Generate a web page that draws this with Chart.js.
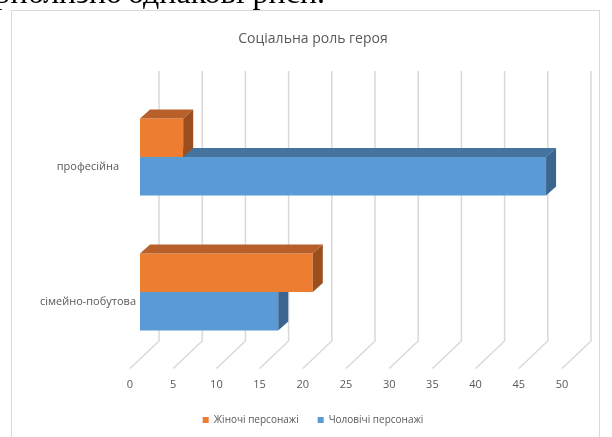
<!DOCTYPE html>
<html lang="uk">
<head>
<meta charset="utf-8">
<title>Соціальна роль героя</title>
<script src="https://cdn.jsdelivr.net/npm/chart.js@4.4.1/dist/chart.umd.min.js"></script>
<style>
  html, body { margin: 0; padding: 0; background: #fff; }
  body { width: 612px; height: 437px; position: relative; overflow: hidden; }
  #ramka {
    position: absolute; left: 11px; top: 10px; width: 589px; height: 440px;
    border: 1px solid #d9d9d9; box-sizing: border-box;
  }
  #grafik { position: absolute; left: 0; top: 0; }
  .tekst {
    position: absolute; top: -24px; font-family: "Liberation Serif", serif;
    font-size: 32px; line-height: 32px; color: #000; white-space: nowrap;
  }
  #tekst1 { right: 490px; }
  #tekst2 { left: 128px; }
</style>
</head>
<body>
<div id="ramka"></div>
<canvas id="grafik" width="612" height="437"></canvas>
<div class="tekst" id="tekst1">приблизно</div>
<div class="tekst" id="tekst2">однакові риси.</div>
<script>
const kategorii = ["професійна", "сімейно-побутова"];
const zhinochi = [5, 20];
const cholovichi = [47, 16];
const nazvySerii = ["Жіночі персонажі", "Чоловічі персонажі"];
const osMin = 0;
const osMax = 50;
const osKrok = 5;

// зсуви для "3D"
const GLYB_DX = 10, GLYB_DY = 9;
const STINA_DX = 19, STINA_DY = 18.5;
const PIDL_DX = -10, PIDL_DY = 9;

const grani = [
  { front: "#ED7D31", verh: "#B9602A", bik: "#9C4F1E" },
  { front: "#5B9BD5", verh: "#4473A0", bik: "#3A6590" },
];

Chart.defaults.font.family = "'Open Sans', sans-serif";
Chart.defaults.color = "#595959";

const tryvymir = {
  id: "tryvymir",

  beforeDatasetsDraw(chart) {
    const { ctx, chartArea, scales } = chart;
    const x = scales.x;

    ctx.save();
    ctx.strokeStyle = "#d9d9d9";
    ctx.lineWidth = 1.5;

    x.ticks.forEach((t) => {
      const px = x.getPixelForValue(t.value);
      ctx.beginPath();
      ctx.moveTo(px + STINA_DX, chartArea.top - STINA_DY);
      ctx.lineTo(px + STINA_DX, chartArea.bottom - STINA_DY);
      ctx.lineTo(px + PIDL_DX, chartArea.bottom + PIDL_DY);
      ctx.stroke();
    });

    ctx.restore();
  },

  afterDatasetDraw(chart, args) {
    const { ctx } = chart;
    const kolory = grani[args.index];

    ctx.save();
    args.meta.data.forEach((bar) => {
      const { x, y, base, height } = bar.getProps(["x", "y", "base", "height"], true);
      const top = y - height / 2;
      const bottom = y + height / 2;

      ctx.fillStyle = kolory.verh;
      ctx.beginPath();
      ctx.moveTo(base, top);
      ctx.lineTo(base + GLYB_DX, top - GLYB_DY);
      ctx.lineTo(x + GLYB_DX, top - GLYB_DY);
      ctx.lineTo(x, top);
      ctx.closePath();
      ctx.fill();

      ctx.fillStyle = kolory.bik;
      ctx.beginPath();
      ctx.moveTo(x, top);
      ctx.lineTo(x + GLYB_DX, top - GLYB_DY);
      ctx.lineTo(x + GLYB_DX, bottom - GLYB_DY);
      ctx.lineTo(x, bottom);
      ctx.closePath();
      ctx.fill();
    });
    ctx.restore();
  },
};

new Chart(document.getElementById("grafik"), {
  type: "bar",

  data: {
    labels: kategorii,

    datasets: [
      {
        label: nazvySerii[0],
        data: zhinochi,
        backgroundColor: grani[0].front,
        borderWidth: 0,
      },
      {
        label: nazvySerii[1],
        data: cholovichi,
        backgroundColor: grani[1].front,
        borderWidth: 0,
      },
    ],
  },

  options: {
    responsive: false,
    animation: false,
    indexAxis: "y",
    barPercentage: 1,
    categoryPercentage: 0.572,

    layout: {
      padding: { left: 30, right: 16, top: 0, bottom: 2 },
    },

    plugins: {
      title: {
        display: true,
        text: "Соціальна роль героя",
        color: "#595959",
        font: { size: 14, weight: "normal" },
        padding: { top: 31, bottom: 41.7 },
      },

      legend: {
        position: "bottom",
        labels: {
          boxWidth: 6,
          boxHeight: 6,
          padding: 19,
          color: "#595959",
          font: { size: 10 },
        },
      },

      tooltip: { enabled: false },
    },

    scales: {
      x: {
        min: osMin,
        max: osMax,
        ticks: {
          stepSize: osKrok,
          padding: 19,
          labelOffset: -10,
          maxRotation: 0,
          color: "#595959",
          font: { size: 11 },
        },
        grid: { display: false, drawTicks: false },
        border: { display: false },
        afterFit(scale) {
          scale.height = 36.5;
        },
      },

      y: {
        ticks: {
          padding: 4,
          labelOffset: 9.5,
          crossAlign: "center",
          color: "#595959",
          font: { size: 11 },
        },
        grid: { display: false, drawTicks: false },
        border: { display: false },
        afterFit(scale) {
          scale.width = 110;
        },
      },

      // порожня вісь справа, щоб заголовок і легенда стояли по центру рамки
      yPrava: {
        type: "category",
        position: "right",
        ticks: { display: false },
        grid: { display: false, drawTicks: false },
        border: { display: false },
        afterFit(scale) {
          scale.width = 24;
        },
      },
    },
  },

  plugins: [tryvymir],
});
</script>
</body>
</html>
